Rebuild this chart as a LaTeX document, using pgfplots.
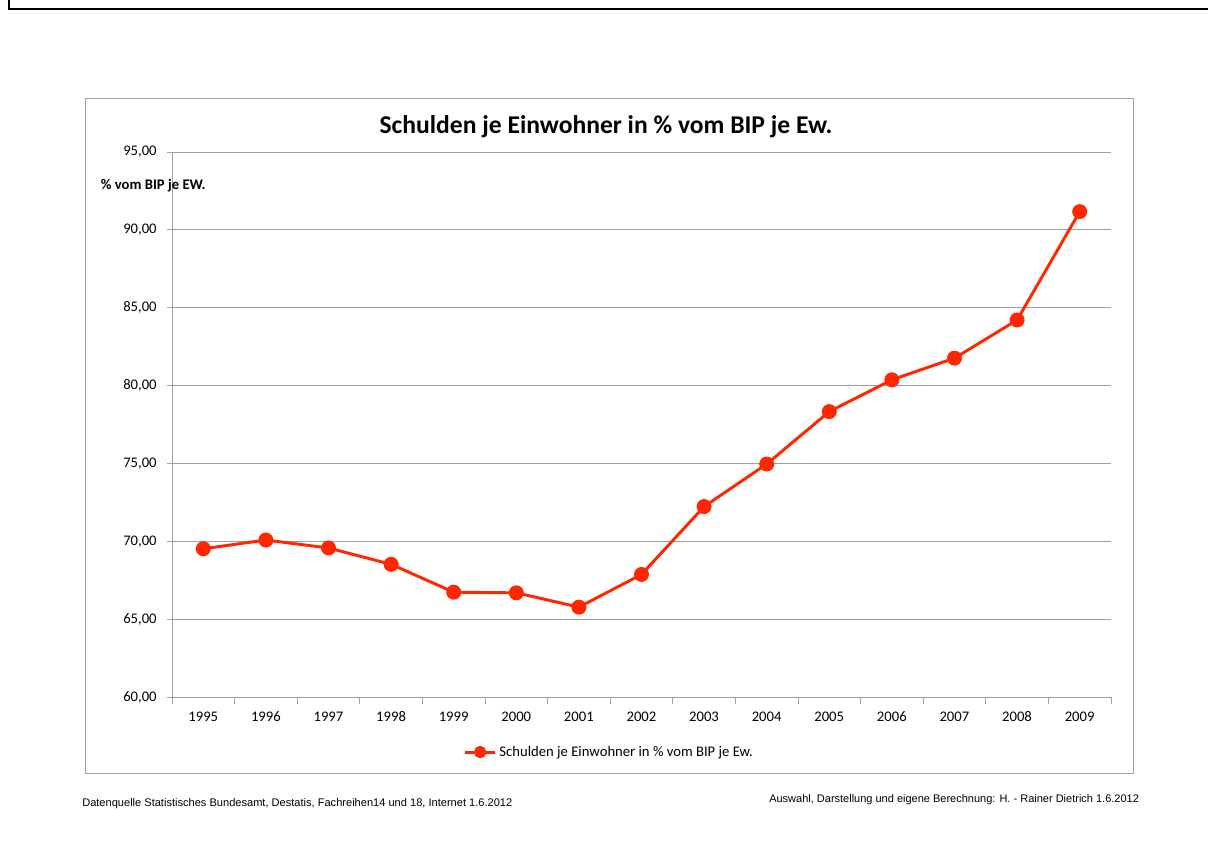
\documentclass[border=0pt]{standalone}
\usepackage{pgfplots}
\pgfplotsset{compat=1.18}
\usepackage{fontspec}
\setmainfont{Carlito}
\newfontfamily\arial{Liberation Sans}

\definecolor{linered}{RGB}{255,38,0}
\definecolor{gridgray}{RGB}{160,160,160}

\begin{document}
\begin{tikzpicture}
% frame and texts are laid out in pixels of the reference (1208 x 850), y measured upwards
\begin{scope}[x=0.75pt,y=0.75pt]
\useasboundingbox (0,0) rectangle (1208,850);
% page border (top and left)
\draw[black, line width=2.2pt] (9,850) -- (9,841) -- (1208,841);
% chart frame
\draw[gridgray, line width=0.6pt] (85,77) rectangle (1133,752);
% title
\node[font=\bfseries\fontsize{19.2}{22}\selectfont] at (606,723) {Schulden je Einwohner in \% vom BIP je Ew.};
% footers
\node[anchor=west, inner sep=0pt, font=\arial\fontsize{8.3}{10}\selectfont] at (82,46)
    {Datenquelle Statistisches Bundesamt, Destatis, Fachreihen14 und 18, Internet 1.6.2012};
\node[anchor=west, inner sep=0pt, font=\arial\fontsize{8.25}{10}\selectfont] at (769,50)
    {Auswahl, Darstellung und eigene Berechnung: H. - Rainer Dietrich 1.6.2012};
\end{scope}

\begin{axis}[
    at={(129pt,114.75pt)}, anchor=south west,
    scale only axis,
    width=704.25pt, height=408.75pt,
    xmin=1994.5, xmax=2009.5,
    ymin=60, ymax=95,
    axis x line*=bottom, axis y line*=left,
    axis line style={gridgray, line width=0.7pt},
    xtick={1995,...,2009},
    minor xtick={1994.5,1995.5,...,2009.5},
    x tick label style={/pgf/number format/1000 sep={}, text height=1.6ex, text depth=0.2ex, yshift=-3pt},
    major x tick style={draw=none},
    minor x tick style={gridgray, line width=0.7pt},
    minor tick length=5pt,
    ytick={60,65,...,95},
    y tick label style={/pgf/number format/.cd, fixed, fixed zerofill, precision=2, use comma, /tikz/.cd, xshift=-4pt},
    major y tick style={gridgray, line width=0.7pt},
    major tick length=4pt,
    tick align=outside,
    ymajorgrids,
    grid style={gridgray, line width=0.7pt},
    ticklabel style={font=\fontsize{11}{13}\selectfont},
    /pgf/number format/assume math mode=true,
    clip=false,
    legend style={at={(0.466,-0.101)}, anchor=center, draw=none, fill=none,
        font=\fontsize{11}{13}\selectfont, inner sep=0pt},
    legend image code/.code={%
        \draw[mark repeat=2, mark phase=2, mark size=3.5pt]
        plot coordinates {(0cm,0cm) (0.4cm,0cm) (0.8cm,0cm)};},
]
\addplot[linered, line width=2.2pt, mark=*, mark size=4.5pt,
    mark options={fill=linered, draw=linered}] coordinates {
    (1995,69.52) (1996,70.08) (1997,69.57) (1998,68.52) (1999,66.73)
    (2000,66.69) (2001,65.77) (2002,67.87) (2003,72.23) (2004,74.96)
    (2005,78.33) (2006,80.37) (2007,81.76) (2008,84.21) (2009,91.17)
};
\addlegendentry{Schulden je Einwohner in \% vom BIP je Ew.}

\node[anchor=west, font=\bfseries\fontsize{11}{13}\selectfont, inner sep=0pt]
    at (rel axis cs:-0.076,0.938) {\% vom BIP je EW.};
\end{axis}
\end{tikzpicture}
\end{document}
